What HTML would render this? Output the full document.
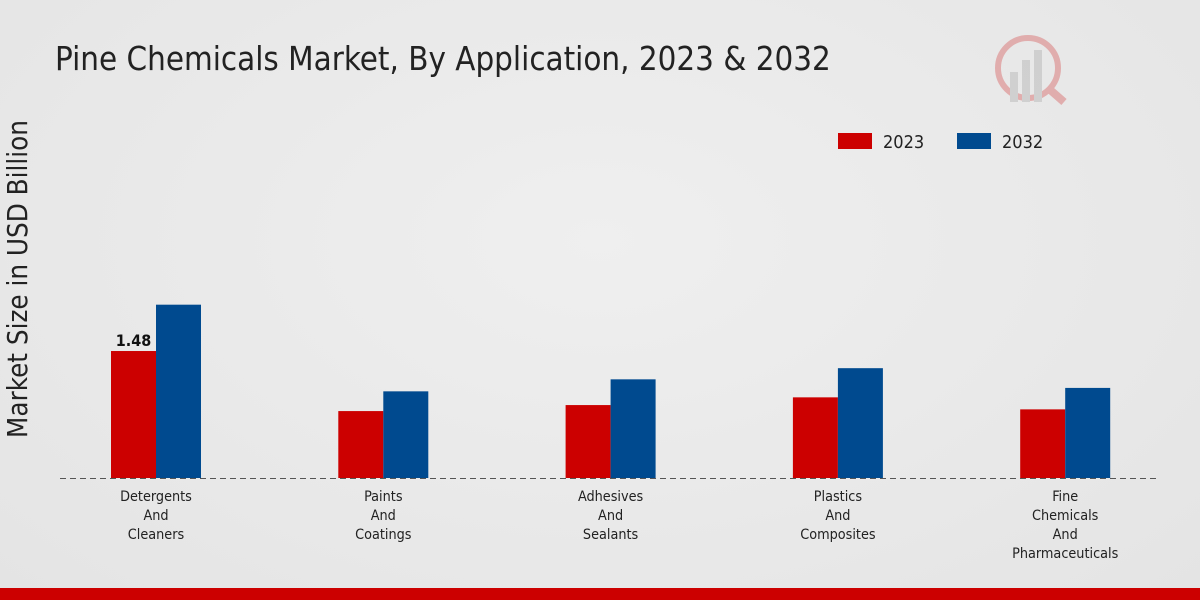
<!DOCTYPE html>
<html><head><meta charset="utf-8">
<style>
body{margin:0;width:1200px;height:600px;overflow:hidden;font-family:"DejaVu Sans Condensed","Liberation Sans Narrow","Liberation Sans",sans-serif;}
#bg{position:absolute;left:0;top:0;width:1200px;height:600px;background:radial-gradient(ellipse at 50% 40%,#efefef 0%,#e4e4e4 100%);}
</style></head><body>
<div id="bg"></div>
<svg id="chart" width="1200" height="600" style="position:absolute;left:0;top:0">
<text x="55" y="70" font-size="32.8" fill="#222">Pine Chemicals Market, By Application, 2023 &amp; 2032</text>
<text transform="translate(27,279) rotate(-90)" text-anchor="middle" font-size="27.5" fill="#222">Market Size in USD Billion</text>
<g>
<rect x="838" y="133" width="34" height="16" fill="#cc0000"/>
<text x="883" y="148" font-size="18" fill="#222">2023</text>
<rect x="957" y="133" width="34" height="16" fill="#004a8f"/>
<text x="1002" y="148" font-size="18" fill="#222">2032</text>
</g>
<g opacity="0.25">
<circle cx="1028" cy="68" r="30" fill="none" stroke="#cc0000" stroke-width="6"/>
<rect x="1010" y="72" width="8" height="30" fill="#888"/><rect x="1022" y="60" width="8" height="42" fill="#888"/><rect x="1034" y="50" width="8" height="52" fill="#888"/>
<line x1="1048" y1="88" x2="1064" y2="102" stroke="#cc0000" stroke-width="8"/>
</g>
<line x1="60" y1="478.5" x2="1160" y2="478.5" stroke="#555" stroke-dasharray="6,4"/>
<g id="bars"></g>
<rect x="0" y="588" width="1200" height="12" fill="#cc0000"/>
</svg>
<script>
const categories=[["Detergents","And","Cleaners"],["Paints","And","Coatings"],["Adhesives","And","Sealants"],["Plastics","And","Composites"],["Fine","Chemicals","And","Pharmaceuticals"]];
const values2023=[1.48,0.78,0.85,0.94,0.80];
const values2032=[2.02,1.01,1.15,1.28,1.05];
const labels2023=["1.48",null,null,null,null];
const baseY=478, pxPerUnit=85.8, x0=156, step=227.3, bw=45;
const y=v=>baseY-v*pxPerUnit;
const cx=i=>x0+i*step;
const g=document.getElementById('bars');
const NS="http://www.w3.org/2000/svg";
categories.forEach((c,i)=>{
  const r=document.createElementNS(NS,'rect');
  r.setAttribute('x',cx(i)-bw);r.setAttribute('y',y(values2023[i]));r.setAttribute('width',bw);r.setAttribute('height',baseY-y(values2023[i]));r.setAttribute('fill','#cc0000');
  
  
  g.appendChild(r);
  const b=document.createElementNS(NS,'rect');
  b.setAttribute('x',cx(i));b.setAttribute('y',y(values2032[i]));b.setAttribute('width',bw);b.setAttribute('height',baseY-y(values2032[i]));b.setAttribute('fill','#004a8f');
  
  
  g.appendChild(b);
  if(labels2023[i]){
    const t=document.createElementNS(NS,'text');
    t.setAttribute('x',cx(i)-bw/2);t.setAttribute('y',y(values2023[i])-5);t.setAttribute('text-anchor','middle');t.setAttribute('font-size','16');t.setAttribute('font-weight','bold');t.setAttribute('fill','#111');
    t.textContent=labels2023[i];
    
    
    g.appendChild(t);
  }
  c.forEach((line,k)=>{
    const t=document.createElementNS(NS,'text');
    t.setAttribute('x',cx(i));t.setAttribute('y',501+k*19);t.setAttribute('text-anchor','middle');t.setAttribute('font-size','14.3');t.setAttribute('fill','#222');
    t.textContent=line;
    
    
    g.appendChild(t);
  });
});
</script>
</body></html>
